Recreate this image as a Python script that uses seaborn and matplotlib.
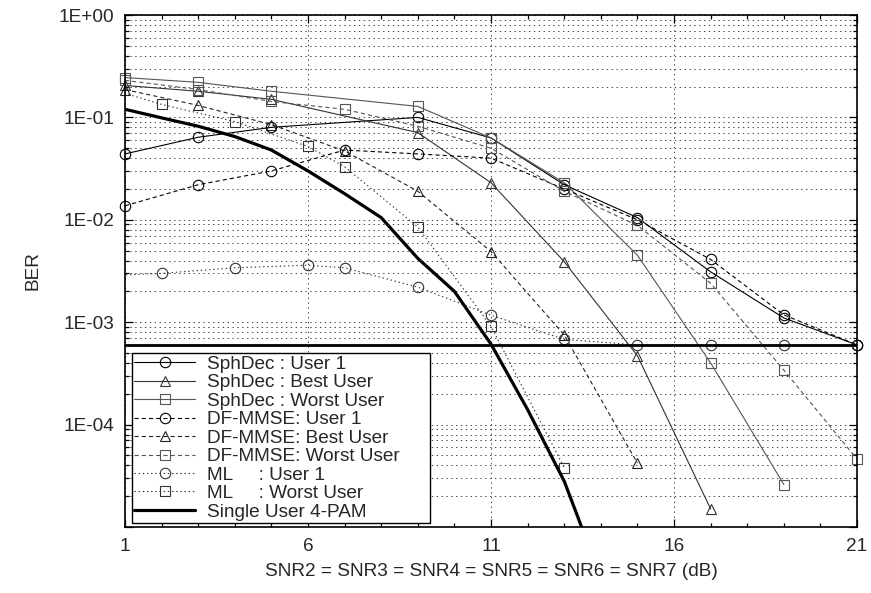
import matplotlib
matplotlib.use("Agg")
import matplotlib.pyplot as plt
import seaborn as sns
from matplotlib.ticker import FixedLocator, LogLocator, NullFormatter, FixedFormatter

# SNR axis (dB) and BER values
sph_x = [1, 3, 5, 9, 11, 13, 15, 17, 19, 21]
sph_user1 = [0.044, 0.064, 0.080, 0.10, 0.063, 0.022, 0.0105, 0.0031, 0.0011, 0.0006]
sph_best_x = [1, 3, 5, 9, 11, 13, 15, 17]
sph_best = [0.205, 0.18, 0.15, 0.071, 0.023, 0.0039, 0.00047, 1.5e-5]
sph_worst_x = [1, 3, 5, 9, 11, 13, 15, 17, 19]
sph_worst = [0.245, 0.22, 0.18, 0.128, 0.063, 0.023, 0.0045, 0.0004, 2.6e-5]

df_x = [1, 3, 5, 7, 9, 11, 13, 15, 17, 19, 21]
df_user1 = [0.0137, 0.022, 0.030, 0.048, 0.044, 0.040, 0.020, 0.010, 0.0041, 0.00118, 0.0006]
df_best_x = [1, 3, 5, 7, 9, 11, 13, 15]
df_best = [0.187, 0.131, 0.085, 0.047, 0.019, 0.0049, 0.00075, 4.2e-5]
df_worst = [0.23, 0.187, 0.143, 0.12, 0.082, 0.05, 0.019, 0.0088, 0.0024, 0.00034, 4.6e-5]

ml_x = [0, 2, 4, 6, 7, 9, 11, 13, 15, 17, 19, 21]
ml_user1 = [0.0028, 0.0030, 0.0034, 0.0036, 0.0034, 0.0022, 0.00117, 0.00068, 0.0006, 0.0006, 0.0006, 0.0006]
ml_worst_x = [0, 2, 4, 6, 7, 9, 11, 13]
ml_worst = [0.22, 0.134, 0.091, 0.052, 0.033, 0.0085, 0.00091, 3.8e-5]

single_x = [1, 2, 3, 4, 5, 6, 7, 8, 9, 10, 11, 12, 13, 14]
single_ber = [0.12, 0.099, 0.082, 0.065, 0.048, 0.030, 0.018, 0.0105, 0.0042, 0.0020,
              0.00061, 0.00014, 2.8e-5, 3.2e-6]
floor_ber = 0.0006

y_ticks = [1, 1e-1, 1e-2, 1e-3, 1e-4, 1e-5]
y_labels = ["1E+00", "1E-01", "1E-02", "1E-03", "1E-04", ""]
x_ticks = [1, 6, 11, 16, 21]

sns.set_style("ticks")
plt.rcParams["font.family"] = ["Liberation Sans", "DejaVu Sans"]
plt.rcParams["lines.scale_dashes"] = False

fig = plt.figure(figsize=(8.71, 5.93), dpi=100)
ax = fig.add_axes([0.1435, 0.1113, 0.8405, 0.8634])

dash = (0, (3.0, 2.2))
dot = (0, (1.0, 2.0))


def curve(x, y, label, color, marker, ls, clip=False):
    # gnuplot draws the points on the border in full, so only clip the ML curves
    sns.lineplot(x=x, y=y, ax=ax, color=color, marker=marker, linestyle=ls, lw=0.8,
                 markersize=7.5, markerfacecolor="none", markeredgecolor=color,
                 markeredgewidth=0.8, label=label, clip_on=clip)


curve(sph_x, sph_user1, "SphDec : User 1", "black", "o", "-")
curve(sph_best_x, sph_best, "SphDec : Best User", "#333333", "^", "-")
curve(sph_worst_x, sph_worst, "SphDec : Worst User", "#555555", "s", "-")
curve(df_x, df_user1, "DF-MMSE: User 1", "black", "o", dash)
curve(df_best_x, df_best, "DF-MMSE: Best User", "#222222", "^", dash)
curve(df_x, df_worst, "DF-MMSE: Worst User", "#555555", "s", dash)
curve(ml_x, ml_user1, "ML     : User 1", "#333333", "o", dot, clip=True)
curve(ml_worst_x, ml_worst, "ML     : Worst User", "#333333", "s", dot, clip=True)
sns.lineplot(x=single_x, y=single_ber, ax=ax, color="black", lw=2.3,
             label="Single User 4-PAM")
ax.axhline(floor_ber, color="black", lw=2.0, zorder=3)

ax.set_yscale("log")
ax.set_xlim(1, 21)
ax.set_ylim(1e-5, 1)

ax.yaxis.set_major_locator(FixedLocator(y_ticks))
ax.yaxis.set_major_formatter(FixedFormatter(y_labels))
ax.yaxis.set_minor_locator(LogLocator(base=10, subs=range(2, 10)))
ax.yaxis.set_minor_formatter(NullFormatter())
ax.xaxis.set_major_locator(FixedLocator(x_ticks))
ax.xaxis.set_minor_locator(FixedLocator(range(1, 22)))

ax.grid(True, which="major", axis="both", color="#444444", lw=0.7, linestyle=(0, (1, 2.5)))
ax.grid(True, which="minor", axis="y", color="#444444", lw=0.7, linestyle=(0, (1, 2.5)))

ax.tick_params(which="both", direction="in", top=True, right=True, labelsize=13.7,
               color="black", width=0.9)
ax.tick_params(which="major", length=6, pad=8)
ax.tick_params(which="minor", length=3)
for s in ax.spines.values():
    s.set_linewidth(1.2)
    s.set_color("black")

ax.set_xlabel("SNR2 = SNR3 = SNR4 = SNR5 = SNR6 = SNR7 (dB)", fontsize=13.7, labelpad=6)
ax.set_ylabel("BER", fontsize=13.7, labelpad=12)

leg = ax.legend(loc="lower left", bbox_to_anchor=(0.0096, 0.008, 0.407, 0.343), mode="expand",
                fontsize=13.7, frameon=True, fancybox=False, edgecolor="black", framealpha=1,
                borderpad=0.12, labelspacing=0.06, handlelength=3.2, handletextpad=0.6,
                borderaxespad=0)
leg.get_frame().set_linewidth(1.0)
leg.set_zorder(5)

fig.savefig("out.png", dpi=100)
